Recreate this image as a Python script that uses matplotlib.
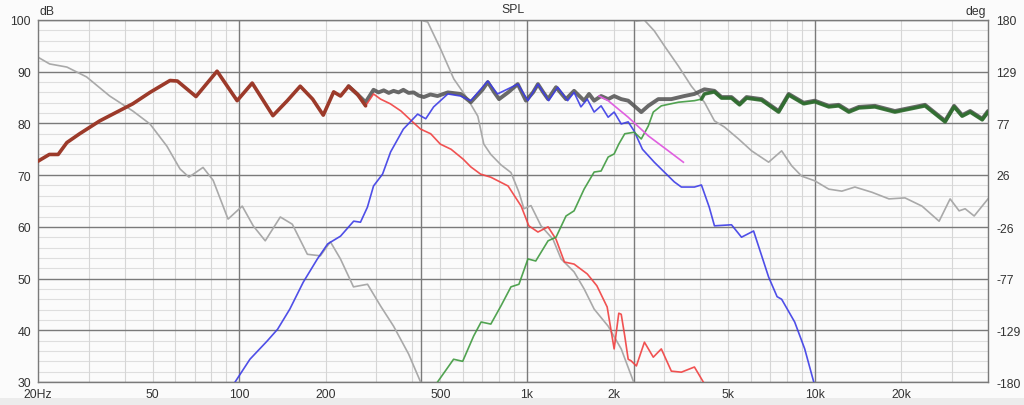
import numpy as np
import matplotlib
matplotlib.use("Agg")
import matplotlib.pyplot as plt
from matplotlib.ticker import FixedLocator, NullFormatter
from matplotlib.patches import Rectangle
from matplotlib.transforms import blended_transform_factory

plt.rcParams["font.family"] = ["Liberation Sans", "DejaVu Sans"]

# ---------------- data ----------------
# Woofer SPL (dB)
woofer_f = [20, 21.9, 23.5, 25.2, 27.9, 32.8, 42.7, 49, 57.5, 61, 70.8, 83.8, 98.4, 111, 131, 147, 163,
            180, 196, 213, 225, 240, 258, 275, 293, 310, 335, 365, 397, 427, 463, 500, 545, 600, 638,
            690, 749, 860, 955, 1015, 1092, 1184, 1262, 1350, 1458, 1620, 1750, 1900, 2009, 2085,
            2126, 2187, 2248, 2300, 2400, 2560, 2748, 2930, 3175, 3440, 3819, 4100]
woofer_db = [72.7, 74.0, 74.0, 76.3, 78.0, 80.5, 83.8, 86.0, 88.3, 88.2, 85.2, 90.1, 84.4, 87.8, 81.5, 84.4, 87.2,
             84.7, 81.6, 86.1, 85.3, 87.2, 85.6, 83.4, 85.7, 84.7, 83.8, 82.4, 80.5, 78.9, 78.0, 76.0, 75.0, 73.1, 71.6,
             70.2, 69.6, 67.9, 64.0, 60.2, 59.0, 60.0, 57.6, 53.2, 52.8, 50.9, 48.6, 44.5, 36.4, 43.3,
             43.1, 38.9, 34.4, 34.1, 33.1, 37.7, 34.8, 36.4, 32.1, 31.9, 32.9, 30.0]

# Midrange SPL (dB)
mid_f = [96.8, 109, 125, 136, 150, 167, 187, 203, 225, 250, 264, 279, 293, 315, 336, 372, 417, 445, 474,
         531, 588, 638, 731, 790, 930, 1008, 1092, 1190, 1280, 1385, 1458, 1540, 1620, 1712, 1810, 1915,
         2009, 2126, 2248, 2359, 2520, 2770, 3250, 3440, 3819, 4039, 4300, 4483, 5138, 5566, 6131, 6914,
         7400, 7674, 8518, 9230, 9921]
mid_db = [30.0, 34.4, 37.9, 40.2, 44.1, 49.3, 53.8, 56.7, 58.2, 61.1, 60.9, 63.8, 67.9, 70.2, 74.5, 78.9, 81.8, 80.9, 83.2,
          85.7, 85.3, 84.4, 88.2, 85.7, 87.6, 84.4, 87.6, 84.4, 87.0, 84.4, 86.0, 83.2, 84.7, 82.2, 83.4, 81.2,
          82.2, 79.9, 80.3, 78.5, 75.0, 72.5, 68.7, 67.7, 67.7, 68.1, 63.8, 60.2, 60.4, 58.0, 59.2, 50.3,
          46.5, 46.0, 41.6, 36.4, 30.0]

# Tweeter SPL (dB)
tweeter_f = [489, 556, 598, 653, 693, 749, 812, 880, 938, 1008, 1073, 1184, 1262, 1367, 1458, 1580, 1712,
             1810, 1915, 2009, 2085, 2187, 2359, 2496, 2640, 2748, 2930, 3359, 3819, 4039, 4137, 4483,
             4743, 5138, 5479, 5796, 6537, 7491, 8118, 9156, 10000, 11190, 12120, 13140, 14240, 16190,
             18990, 22310, 24170, 28380, 30500, 32530, 34680, 38200, 40000]
tweeter_db = [30.0, 34.4, 34.0, 38.9, 41.6, 41.2, 44.7, 48.4, 48.9, 53.8, 53.4, 57.3, 58.0, 62.1, 63.1, 67.3, 70.6,
              70.8, 73.5, 74.1, 76.0, 78.0, 78.3, 77.0, 79.5, 82.2, 83.4, 84.1, 84.4, 84.7, 85.7, 86.1,
              84.9, 84.9, 83.6, 84.9, 84.5, 82.2, 85.5, 83.8, 84.2, 83.2, 83.4, 82.2, 83.0, 83.2,
              82.2, 83.0, 83.4, 80.3, 83.2, 81.4, 82.2, 80.7, 82.2]

# Summed SPL (dB)
sum_f = [240, 258, 275, 293, 305, 318, 331, 344, 358, 372, 388, 404, 420, 438, 462, 489, 531, 588, 638, 700,
         731, 770, 800, 860, 929, 992, 1050, 1092, 1140, 1184, 1262, 1367, 1458, 1580, 1644, 1712, 1810,
         1915, 2009, 2126, 2248, 2359, 2496, 2640, 2860, 3175, 3524, 3819, 4137, 4483, 4743, 5138, 5479,
         5796, 6537, 7491, 8118, 9156, 10000, 11190, 12120, 13140, 14240, 16190, 18990, 22310, 24170,
         28380, 30500, 32530, 34680, 38200, 40000]
sum_db = [87.2, 85.6, 84.1, 86.5, 86.0, 86.4, 85.9, 86.3, 86.0, 86.5, 85.9, 86.0, 85.4, 85.1, 85.6, 85.3, 86.0, 85.7,
          84.1, 86.5, 88.0, 86.0, 84.7, 86.0, 87.6, 84.4, 86.0, 87.6, 86.0, 84.7, 87.0, 84.7, 86.3, 84.4,
          85.7, 84.4, 85.3, 84.7, 85.3, 84.7, 84.4, 83.4, 82.2, 83.4, 84.7, 84.7, 85.3, 85.7, 86.6, 86.3,
          85.1, 85.1, 83.8, 85.1, 84.7, 82.4, 85.7, 84.0, 84.4, 83.4, 83.6, 82.4, 83.2, 83.4, 82.4, 83.2,
          83.6, 80.5, 83.4, 81.6, 82.4, 80.9, 82.4]

# Target slope (dB)
target_f = [1780, 1915, 2248, 2640, 3099, 3496]
target_db = [85.3, 84.4, 81.2, 77.6, 74.7, 72.5]

# Phase (deg), wrapped; NaN marks the wrap jumps
phase_f = [20, 21.95, 25.2, 29.5, 35.5, 42.7, 49.0, 56.1, 62.3, 66.9, 74.9, 81.2, 91.5, 102.5, 111.9,
           123.2, 139.0, 153.0, 172.6, 191.5, 207.5, 224.9, 249.6, 279.3, 310, 344, 388, 427, 432,
           437.7, 452, 501, 557, 623, 675, 708, 749, 812, 880, 938, 976, 1033, 1119, 1232, 1314, 1458,
           1580, 1712, 1915, 2126, 2341, 2370,
           2398, 2556, 2770, 3002, 3359, 3727, 4137, 4483, 4858, 5435, 6033, 6914, 7674, 8316, 9010,
           10000, 11190, 12420, 13790, 15800, 18110, 20590, 23590, 27050, 29540, 31750, 33310, 35810, 40000]
phase_deg = [143.0, 136.3, 133.2, 123.4, 104.4, 89.5, 76.6, 54.5, 31.9, 23.7, 33.4, 20.6, -18.0, -5.1, -24.7,
             -39.6, -15.9, -23.1, -53.0, -54.5, -40.6, -57.6, -85.4, -82.8, -104.4, -124.5, -152.2, -180.0, np.nan,
             179.0, 178.0, 151.2, 121.4, 101.3, 84.3, 56.6, 46.3, 36.0, 28.3, 8.7, -7.7, -4.6, -24.7, -38.1, -57.6, -70.5,
             -87.4, -107.5, -124.5, -147.1, -179.0, np.nan,
             179.0, 180.0, 169.2, 154.3, 134.2, 114.2, 98.2, 79.7, 73.5, 61.7, 49.9, 38.6, 49.9, 35.0, 24.7,
             20.1, 11.8, 9.8, 13.9, 8.7, 2.1, 3.1, -5.1, -20.1, 2.1, -9.8, -7.7, -14.9, 2.1]

xtick_vals = [20, 50, 100, 200, 500, 1000, 2000, 5000, 10000, 20000]
xtick_labels = ["20Hz", "50", "100", "200", "500", "1k", "2k", "5k", "10k", "20k"]
ytick_vals = [30, 40, 50, 60, 70, 80, 90, 100]
deg_ticks = [-180, -129, -77, -26, 26, 77, 129, 180]
crossover_lines = [428, 2360]

# ---------------- plot ----------------
FS = 8.8
TXT = "#333333"
fig = plt.figure(figsize=(10.24, 4.06), dpi=100, facecolor="#fbfbfb")
fig.patches.append(Rectangle((0, 0), 1, 7 / 406, transform=fig.transFigure,
                             facecolor="#ececec", edgecolor="none", zorder=-1))
ax = fig.add_axes([38 / 1024, 1 - 383 / 406, 950 / 1024, 362 / 406])
ax.set_xscale("log")
ax.set_xlim(20, 40000)
ax.set_ylim(30, 100)

wf = np.array(woofer_f)
wd = np.array(woofer_db)
tf = np.array(tweeter_f)
td = np.array(tweeter_db)

# background axis: grid + phase
ax2 = ax.twinx()
ax2.set_ylim(-180, 180)
ax2.set_facecolor("white")
for s in ax2.spines.values():
    s.set_visible(False)

hy = blended_transform_factory(ax2.transAxes, ax.transData)
for yv in np.arange(30, 101, 2):
    if yv % 10:
        ax2.plot([0, 1], [yv, yv], transform=hy, color="#dedede", lw=0.8, zorder=0)
minor_x = [m * d for d in [10, 100, 1000, 10000] for m in range(2, 10) if 20 <= m * d <= 40000]
for xv in minor_x:
    ax2.axvline(xv, color="#d6d6d6", lw=0.8, zorder=0.2)
for yv in ytick_vals:
    ax2.plot([0, 1], [yv, yv], transform=hy, color="#7a7a7a", lw=1.0, zorder=0.5)
for xv in [100, 1000, 10000] + crossover_lines:
    ax2.axvline(xv, color="#7a7a7a", lw=1.0, zorder=0.6)

ax2.plot(phase_f, phase_deg, color="#a9a9a9", lw=1.2, zorder=1)
ax2.set_yticks(deg_ticks)
ax2.set_yticklabels([str(v) for v in deg_ticks])
ax2.tick_params(axis="y", length=0, labelsize=FS, colors=TXT, pad=6)

ax.set_zorder(ax2.get_zorder() + 1)
ax.patch.set_visible(False)

# SPL curves
ax.plot(sum_f, sum_db, color="#505050", lw=2.8, alpha=0.85, zorder=3, solid_capstyle="round")
ax.plot(wf[wf >= 270], wd[wf >= 270], color="#f04040", lw=1.2, alpha=0.9, zorder=4)
ax.plot(wf[wf <= 280], wd[wf <= 280], color="#9c3a2a", lw=2.6, zorder=5, solid_capstyle="round")
ax.plot(mid_f, mid_db, color="#3c3ce6", lw=1.2, alpha=0.9, zorder=4)
ax.plot(tf, td, color="#3f9a3f", lw=1.2, alpha=0.9, zorder=4)
ax.plot(tf[tf >= 4000], td[tf >= 4000], color="#2f6b2f", lw=2.6, alpha=0.9, zorder=5, solid_capstyle="round")
ax.plot(target_f, target_db, color="#e060e0", lw=1.2, zorder=4)

# axes styling
ax.xaxis.set_major_locator(FixedLocator(xtick_vals))
ax.set_xticklabels(xtick_labels)
ax.xaxis.set_minor_locator(FixedLocator([]))
ax.xaxis.set_minor_formatter(NullFormatter())
ax.set_yticks(ytick_vals)
ax.set_yticklabels([str(v) for v in ytick_vals])
ax.tick_params(axis="both", length=0, labelsize=FS, colors=TXT)
ax.tick_params(axis="x", pad=4)
ax.tick_params(axis="y", pad=5)
for s in ax.spines.values():
    s.set_color("#7a7a7a")
    s.set_linewidth(1.0)

fig.text(513 / 1024, 1 - 10 / 406, "SPL", ha="center", va="center", fontsize=FS, color=TXT)
fig.text(40 / 1024, 1 - 12 / 406, "dB", ha="left", va="center", fontsize=FS, color=TXT)
fig.text(986 / 1024, 1 - 12 / 406, "deg", ha="right", va="center", fontsize=FS, color=TXT)

fig.savefig("out.png", dpi=100, facecolor=fig.get_facecolor())
